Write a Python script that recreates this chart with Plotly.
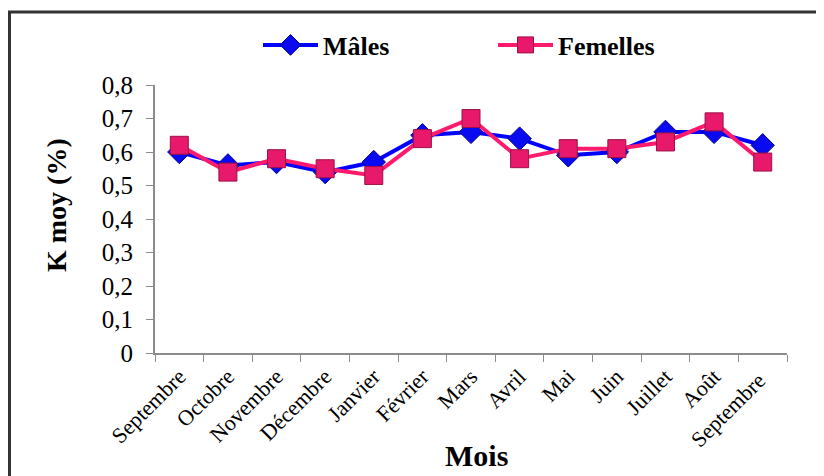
import plotly.graph_objects as go

mois = ["Septembre", "Octobre", "Novembre", "Décembre", "Janvier", "Février", "Mars",
        "Avril", "Mai", "Juin", "Juillet", "Août", "Septembre "]
males = [0.60, 0.56, 0.57, 0.54, 0.57, 0.65, 0.66, 0.64, 0.59, 0.60, 0.66, 0.66, 0.62]
femelles = [0.62, 0.54, 0.58, 0.55, 0.53, 0.64, 0.70, 0.58, 0.61, 0.61, 0.63, 0.69, 0.57]
y_ticks = [0, 0.1, 0.2, 0.3, 0.4, 0.5, 0.6, 0.7, 0.8]
y_ticktext = ["0", "0,1", "0,2", "0,3", "0,4", "0,5", "0,6", "0,7", "0,8"]

FONT = "Liberation Serif"

fig = go.Figure()
fig.add_trace(go.Scatter(
    x=mois, y=males, name="Mâles", mode="lines+markers",
    line=dict(color="#0000FF", width=4),
    marker=dict(symbol="diamond", size=18, color="#0A0AF0",
                line=dict(color="#00008B", width=1)),
))
fig.add_trace(go.Scatter(
    x=mois, y=femelles, name="Femelles", mode="lines+markers",
    line=dict(color="#FF1A6E", width=4),
    marker=dict(symbol="square", size=18, color="#E8186A",
                line=dict(color="#9B1046", width=1)),
))

OFF = 8  # page body margin
W, H = 824 - OFF, 476 - OFF
# plot area in page pixels
PL, PR, PT, PB = 155, 787, 85, 353
L = PL - OFF
R = W - (PR - OFF)
T = PT - OFF
B = H - (PB - OFF)
pw = W - L - R
ph = H - T - B


def px_x(x):
    return (x - OFF - L) / pw


def px_y(y):
    return (H - B - (y - OFF)) / ph


fig.update_layout(
    width=W, height=H,
    margin=dict(l=L, r=R, t=T, b=B, pad=0),
    paper_bgcolor="white", plot_bgcolor="white",
    font=dict(family=FONT, size=22, color="black"),
    showlegend=True,
    legend=dict(orientation="h", x=px_x(258), xanchor="left",
                y=px_y(45), yanchor="middle",
                font=dict(family=FONT, size=26, color="black", weight="bold"),
                itemwidth=55, entrywidth=165, tracegroupgap=0,
                bgcolor="rgba(0,0,0,0)"),
    xaxis=dict(
        type="category", range=[-0.5, len(mois) - 0.5],
        tickson="boundaries", ticks="outside", ticklen=7,
        tickcolor="#8C8C8C", showline=True, linecolor="#8C8C8C", linewidth=2,
        showgrid=False, zeroline=False, tickangle=-45,
        tickfont=dict(family=FONT, size=22, color="black"),
    ),
    yaxis=dict(
        range=[0, 0.8], tickvals=y_ticks, ticktext=y_ticktext,
        ticks="outside", ticklen=7, tickcolor="#8C8C8C",
        showline=True, linecolor="#8C8C8C", linewidth=2,
        showgrid=False, zeroline=False, ticklabelstandoff=8,
        tickfont=dict(family=FONT, size=25, color="black"),
    ),
    annotations=[
        dict(text="<b>Mois</b>", xref="paper", yref="paper",
             x=px_x(476), y=px_y(455), xanchor="center", yanchor="middle",
             showarrow=False, font=dict(family=FONT, size=30, color="black")),
        dict(text="<b>K moy (%)</b>", xref="paper", yref="paper",
             x=px_x(56), y=px_y(205), xanchor="center", yanchor="middle",
             textangle=-90, showarrow=False,
             font=dict(family=FONT, size=28, color="black")),
    ],
    shapes=[
        dict(type="line", xref="paper", yref="paper",
             x0=px_x(8), x1=px_x(830), y0=px_y(12), y1=px_y(12),
             line=dict(color="#333333", width=3)),
        dict(type="line", xref="paper", yref="paper",
             x0=px_x(9.5), x1=px_x(9.5), y0=px_y(12), y1=px_y(480),
             line=dict(color="#333333", width=3)),
    ],
)

fig.write_html("out.html")
